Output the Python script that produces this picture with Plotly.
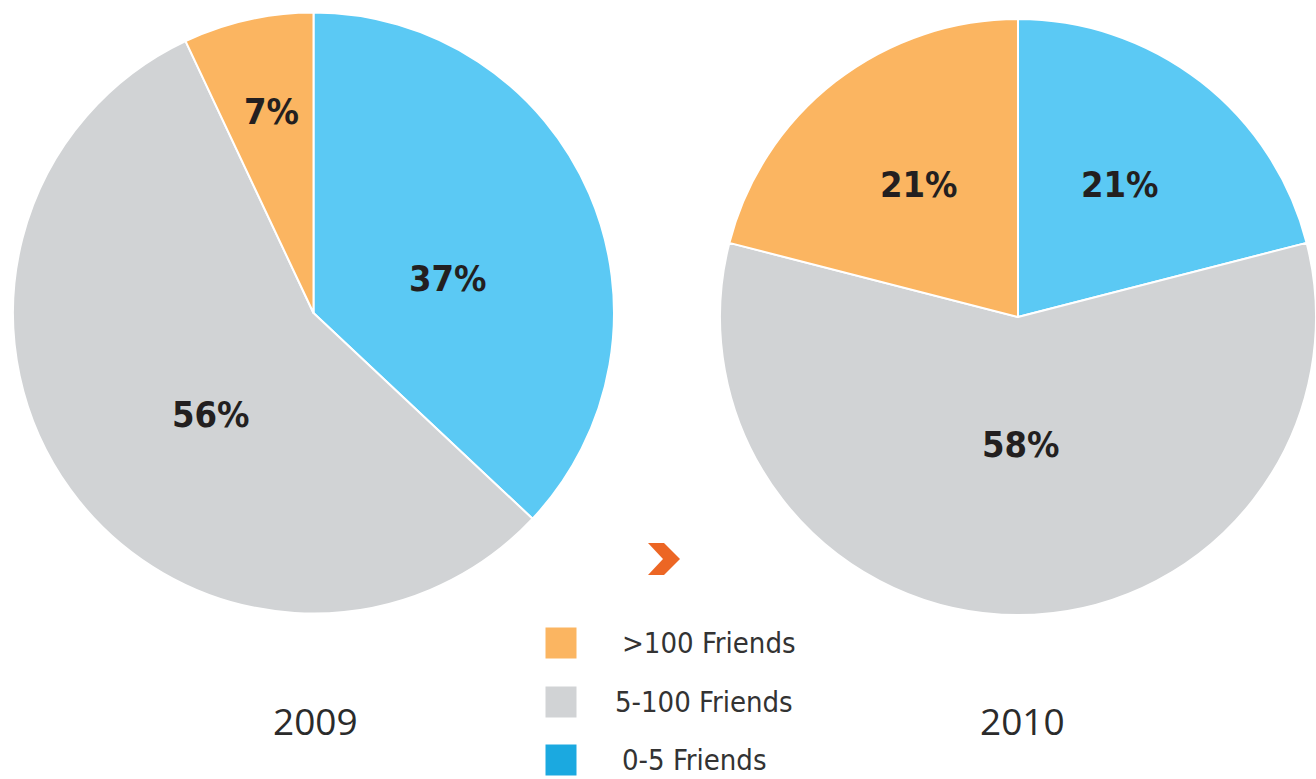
import plotly.graph_objects as go

# Friend-count groups, in slice order (clockwise from 12 o'clock)
categories = ["0-5 Friends", "5-100 Friends", ">100 Friends"]
share_2009 = [37, 56, 7]
share_2010 = [21, 58, 21]
years = ["2009", "2010"]

slice_colors = ["#5BC9F4", "#D1D3D5", "#FBB561"]
legend_colors = ["#1BA9E0", "#D1D3D5", "#FBB561"]

W, H = 1316, 779
NARROW = "DejaVu Sans Condensed, Liberation Sans Narrow, Roboto, sans-serif"
label_font = dict(family=NARROW, size=36, color="#231F20", weight="bold")

fig = go.Figure()


def add_pie(values, x0, x1, y0, y1):
    fig.add_trace(go.Pie(
        labels=categories,
        values=values,
        sort=False,
        direction="clockwise",
        rotation=0,
        marker=dict(colors=slice_colors, line=dict(color="white", width=2)),
        textinfo="none",
        hoverinfo="label+value",
        showlegend=False,
        domain=dict(x=[x0 / W, x1 / W], y=[1 - y1 / H, 1 - y0 / H]),
    ))


add_pie(share_2009, 13, 614, 12, 614)
add_pie(share_2010, 720, 1316, 19, 615)

# Percentage labels placed inside each slice (same order as categories)
label_pos_2009 = [(448, 278), (211, 414), (271, 111)]
label_pos_2010 = [(1120, 184), (1021, 444), (919, 184)]
for values, positions in [(share_2009, label_pos_2009), (share_2010, label_pos_2010)]:
    for v, (lx, ly) in zip(values, positions):
        fig.add_annotation(
            x=lx, y=ly, xref="x", yref="y", text=f"{v}%", showarrow=False,
            xanchor="center", yanchor="middle", font=label_font,
        )

# Legend: square swatches with labels, top to bottom >100, 5-100, 0-5
legend_rows = list(reversed(range(len(categories))))
legend_y = [643, 702, 760]
legend_text_x = [620, 613, 620]
fig.add_trace(go.Scatter(
    x=[561] * len(legend_rows),
    y=legend_y,
    mode="markers",
    marker=dict(symbol="square", size=31, color=[legend_colors[i] for i in legend_rows]),
    hoverinfo="skip",
    showlegend=False,
    xaxis="x", yaxis="y",
))
for yy, tx, i in zip(legend_y, legend_text_x, legend_rows):
    fig.add_annotation(
        x=tx, y=yy, xref="x", yref="y",
        text=categories[i].replace(">", "&gt;"),
        showarrow=False, xanchor="left", yanchor="middle",
        font=dict(family=NARROW, size=29, color="#333333"),
    )

# Year captions under each pie
for yr, cx in zip(years, [315, 1022]):
    fig.add_annotation(
        x=cx, y=720, xref="x", yref="y", text=yr, showarrow=False,
        xanchor="center", yanchor="middle",
        font=dict(family="Open Sans", size=37, color="#2B2B2B"),
    )

# Orange chevron between the pies
fig.add_shape(
    type="path",
    path="M 648 543 L 664 543 L 680 559 L 664 575 L 648 575 L 663 559 Z",
    xref="x", yref="y",
    fillcolor="#EC6624", line=dict(width=0),
)

fig.update_layout(
    width=W, height=H,
    margin=dict(l=0, r=0, t=0, b=0),
    paper_bgcolor="white", plot_bgcolor="white",
    xaxis=dict(range=[0, W], visible=False, fixedrange=True, domain=[0, 1]),
    yaxis=dict(range=[H, 0], visible=False, fixedrange=True, domain=[0, 1]),
)

fig.write_html("out.html")
